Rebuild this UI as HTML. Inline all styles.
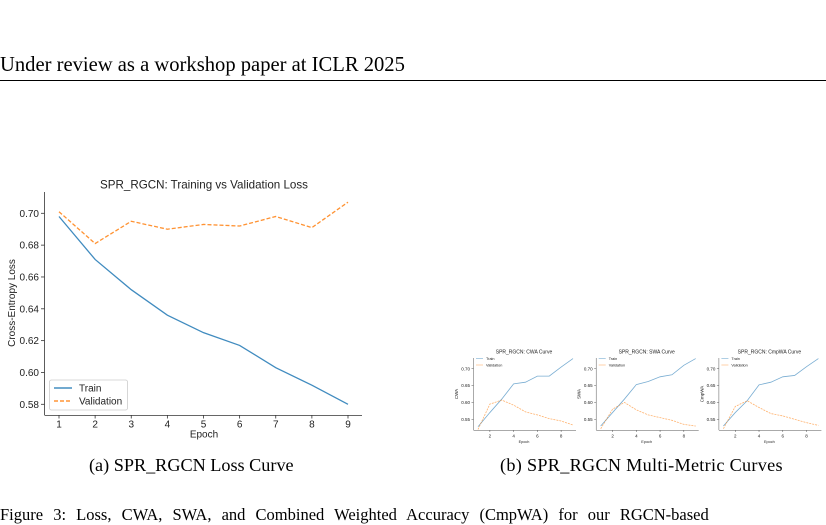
<!DOCTYPE html>
<html><head><meta charset="utf-8"><style>
body{margin:0;width:826px;height:509px;overflow:hidden;background:#fff;position:relative;font-family:"Liberation Serif",serif}
.t{position:absolute;white-space:nowrap;color:#000}
</style></head><body>
<div class="t" style="left:0;top:54px;font-size:20.6px">Under review as a workshop paper at ICLR 2025</div>
<div style="position:absolute;left:0;top:80px;width:826px;height:1px;background:#000"></div>
<svg id="svg" width="826" height="509" style="position:absolute;left:0;top:0" font-family="Liberation Sans, sans-serif"></svg>
<div class="t" style="left:89px;top:455px;font-size:18.2px">(a) SPR_RGCN Loss Curve</div>
<div class="t" style="left:500px;top:455px;font-size:18.2px;letter-spacing:0.3px">(b) SPR_RGCN Multi-Metric Curves</div>
<div class="t" style="left:0;top:505px;font-size:16.5px;word-spacing:6px">Figure 3: Loss, CWA, SWA, and Combined Weighted Accuracy (CmpWA) for our RGCN-based</div>
<script>
const epochs=[1,2,3,4,5,6,7,8,9];
const lossTrain=[0.698,0.671,0.652,0.636,0.625,0.617,0.603,0.592,0.580];
const lossVal=[0.701,0.681,0.695,0.690,0.693,0.692,0.698,0.691,0.707];
const lossTicks=[0.58,0.60,0.62,0.64,0.66,0.68,0.70];
const cwaTrain=[0.528,0.570,0.610,0.655,0.660,0.678,0.678,0.705,0.730];
const cwaVal=[0.520,0.595,0.607,0.592,0.572,0.563,0.552,0.545,0.533];
const swaTrain=[0.530,0.570,0.610,0.653,0.662,0.676,0.682,0.710,0.730];
const swaVal=[0.522,0.580,0.600,0.578,0.563,0.555,0.547,0.535,0.530];
const cmpTrain=[0.530,0.570,0.605,0.652,0.660,0.676,0.680,0.706,0.730];
const cmpVal=[0.522,0.588,0.605,0.585,0.567,0.560,0.550,0.540,0.532];
const metricTicks=[0.55,0.60,0.65,0.70];
const metricXTicks=[2,4,6,8];
const metricNames=["CWA","SWA","CmpWA"];
const svg=document.getElementById('svg');
const NS='http://www.w3.org/2000/svg';
function mk(tag,attrs,name,parent){const e=document.createElementNS(NS,tag);for(const k in attrs)e.setAttribute(k,attrs[k]);


(parent||svg).appendChild(e);return e;}
function txt(x,y,s,size,name,anchor,extra){const e=mk('text',Object.assign({x:x,y:y,'font-size':size,fill:'#222','text-anchor':anchor||'middle'},extra||{}),name);e.textContent=s;return e;}
// Chart A
{
const X=v=>59+(v-1)*(348-59)/8;
const Y=v=>404.3-(v-0.58)*(191/0.12);
mk('line',{x1:44.5,y1:192,x2:44.5,y2:415,stroke:'#333','stroke-width':0.8},'loss-y-axis');
mk('line',{x1:44.5,y1:415.5,x2:362,y2:415.5,stroke:'#333','stroke-width':0.8},'loss-x-axis');
epochs.forEach(e=>{mk('line',{x1:X(e),y1:415,x2:X(e),y2:418.5,stroke:'#333','stroke-width':0.8},'loss-x-tick');txt(X(e),427.5,String(e),10,'loss-x-tick-label');});
lossTicks.forEach(t=>{mk('line',{x1:41,y1:Y(t),x2:44.5,y2:Y(t),stroke:'#333','stroke-width':0.8},'loss-y-tick');txt(39,Y(t)+3.5,t.toFixed(2),10,'loss-y-tick-label','end');});
txt(204,188.5,'SPR_RGCN: Training vs Validation Loss',11.6,'loss-chart-title');
txt(204,437.5,'Epoch',10,'loss-x-axis-title');
txt(0,0,'Cross-Entropy Loss',10,'loss-y-axis-title','middle',{transform:'translate(15,303) rotate(-90)'});
mk('polyline',{points:epochs.map((e,i)=>X(e)+','+Y(lossTrain[i])).join(' '),fill:'none',stroke:'#1f77b4','stroke-width':1.3,opacity:0.85},'train-loss-line');
mk('polyline',{points:epochs.map((e,i)=>X(e)+','+Y(lossVal[i])).join(' '),fill:'none',stroke:'#ff7f0e','stroke-width':1.3,'stroke-dasharray':'4,2',opacity:0.85},'validation-loss-line');
mk('rect',{x:49.5,y:380,width:78,height:30,rx:2,fill:'#fff',stroke:'#ccc','stroke-width':0.8},'loss-legend');
mk('line',{x1:54,y1:388,x2:72,y2:388,stroke:'#1f77b4','stroke-width':1.3},'legend-train-swatch');
txt(79,391.5,'Train',10,'legend-train-label','start');
mk('line',{x1:54,y1:401,x2:72,y2:401,stroke:'#ff7f0e','stroke-width':1.3,'stroke-dasharray':'4,2'},'legend-validation-swatch');
txt(79,404.5,'Validation',10,'legend-validation-label','start');
}
// Metric charts
const trains=[cwaTrain,swaTrain,cmpTrain], vals=[cwaVal,swaVal,cmpVal];
metricNames.forEach((m,k)=>{
const off=k*122.7;
const X=v=>off+478+(v-1)*(573-478)/8;
const Y=v=>419.3-(v-0.55)*(50.6/0.15);
const n=m.toLowerCase();
mk('line',{x1:off+473.5,y1:358,x2:off+473.5,y2:430,stroke:'#555','stroke-width':0.5},n+'-y-axis');
mk('line',{x1:off+473.5,y1:430.5,x2:off+576,y2:430.5,stroke:'#555','stroke-width':0.5},n+'-x-axis');
metricXTicks.forEach(e=>{mk('line',{x1:X(e),y1:430,x2:X(e),y2:432,stroke:'#555','stroke-width':0.5},n+'-x-tick');txt(X(e),437.5,String(e),4.5,n+'-x-tick-label');});
metricTicks.forEach(t=>{mk('line',{x1:off+471.5,y1:Y(t),x2:off+473.5,y2:Y(t),stroke:'#555','stroke-width':0.5},n+'-y-tick');txt(off+470,Y(t)+1.6,t.toFixed(2),4.5,n+'-y-tick-label','end');});
txt(off+524,353.5,'SPR_RGCN: '+m+' Curve',5,n+'-chart-title');
txt(off+524,443,'Epoch',3.8,n+'-x-axis-title');
txt(0,0,m,4.5,n+'-y-axis-title','middle',{transform:'translate('+(off+458)+',394) rotate(-90)'});
mk('polyline',{points:epochs.map((e,i)=>X(e)+','+Y(trains[k][i])).join(' '),fill:'none',stroke:'#1f77b4','stroke-width':0.8,opacity:0.6},n+'-train-line');
mk('polyline',{points:epochs.map((e,i)=>X(e)+','+Y(vals[k][i])).join(' '),fill:'none',stroke:'#ff7f0e','stroke-width':0.8,'stroke-dasharray':'2,1',opacity:0.6},n+'-validation-line');
mk('line',{x1:off+476,y1:358.7,x2:off+483,y2:358.7,stroke:'#1f77b4','stroke-width':0.6,opacity:0.6},n+'-legend-train-swatch');
txt(off+486,360,'Train',3.8,n+'-legend-train-label','start');
mk('line',{x1:off+476,y1:365,x2:off+483,y2:365,stroke:'#ff7f0e','stroke-width':0.6,opacity:0.6},n+'-legend-validation-swatch');
txt(off+486,366.3,'Validation',3.8,n+'-legend-validation-label','start');
});
</script>
</body></html>
